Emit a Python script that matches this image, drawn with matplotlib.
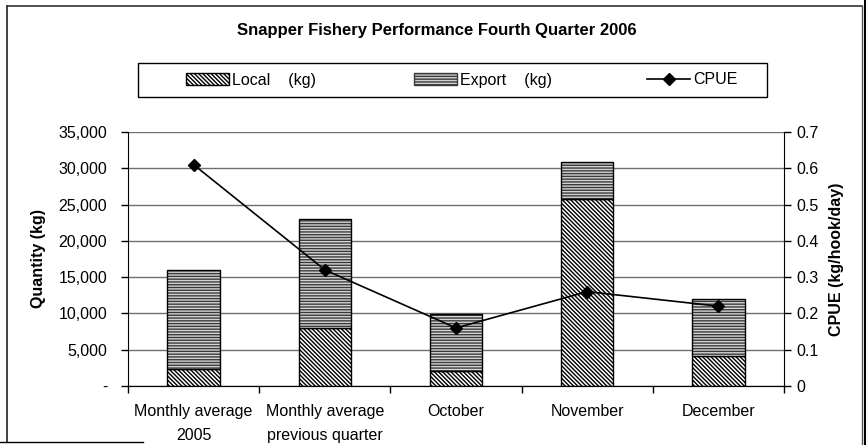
import numpy as np
import matplotlib
matplotlib.use('Agg')
import matplotlib.pyplot as plt
from matplotlib.patches import Rectangle, Patch
from matplotlib.lines import Line2D
from matplotlib.ticker import FuncFormatter, FixedLocator

plt.rcParams['font.family'] = ['Liberation Sans', 'DejaVu Sans']
plt.rcParams['hatch.linewidth'] = 1.0

categories = ['Monthly average\n2005', 'Monthly average\nprevious quarter',
              'October', 'November', 'December']
local_kg = [2300, 8000, 2100, 25800, 4200]
export_kg = [13700, 15000, 7800, 5100, 7800]
cpue = [0.61, 0.32, 0.16, 0.26, 0.22]

W, H = 866, 445
fig = plt.figure(figsize=(W / 100, H / 100), dpi=100)
ax = fig.add_axes([128 / W, 1 - 386 / H, 656 / W, 254 / H])
ax2 = ax.twinx()

x = np.arange(len(categories))
bw = 0.4
diag = '\\' * 8
horiz = '-' * 6

# local (diagonal hatch)
ax.bar(x, local_kg, bw, color='white', edgecolor='black', hatch=diag,
       linewidth=1.0, zorder=3)
# export (horizontal stripes): hatch layer, then outline
ax.bar(x, export_kg, bw, bottom=local_kg, color='#d4d4d4', edgecolor='#3a3a3a',
       hatch=horiz, linewidth=0, zorder=3)
ax.bar(x, export_kg, bw, bottom=local_kg, color='none', edgecolor='black',
       linewidth=1.0, zorder=4)

ax.set_xlim(-0.5, len(categories) - 0.5)
ax.set_ylim(0, 35000)
ax.set_yticks(np.arange(0, 35001, 5000))
ax.yaxis.set_major_formatter(FuncFormatter(lambda v, p: '-' if v == 0 else f'{v:,.0f}'))
ax.yaxis.grid(True, color='#707070', linewidth=1.0, zorder=0)
ax.set_axisbelow(True)

ax.xaxis.set_major_locator(FixedLocator(np.arange(-0.5, len(categories), 1.0)))
ax.xaxis.set_minor_locator(FixedLocator(x))
ax.set_xticklabels([''] * (len(categories) + 1))
ax.set_xticklabels(categories, minor=True, fontsize=11.5, linespacing=1.75)
ax.tick_params(axis='x', which='major', direction='out', length=5, width=1)
ax.tick_params(axis='x', which='minor', length=0, pad=13)
ax.tick_params(axis='y', direction='out', length=5, width=1, pad=10, labelsize=11.5)

ax2.plot(x, cpue, color='black', linewidth=1.2, marker='D', markersize=6, zorder=5)
ax2.set_ylim(0, 0.7)
ax2.set_yticks(np.arange(0, 0.71, 0.1))
ax2.yaxis.set_major_formatter(FuncFormatter(lambda v, p: f'{v:.1f}'.rstrip('0').rstrip('.') if v != 0 else '0'))
ax2.tick_params(axis='y', direction='out', length=5, width=1, pad=4, labelsize=11.5)

for a in (ax, ax2):
    a.spines['top'].set_visible(False)
ax2.spines['left'].set_visible(False)
ax.spines['right'].set_visible(False)

ax.set_ylabel('Quantity (kg)', fontsize=11.5, fontweight='bold', labelpad=9)
ax2.set_ylabel('CPUE (kg/hook/day)', fontsize=11.5, fontweight='bold', labelpad=7)

fig.text(437 / W, 1 - 30 / H, 'Snapper Fishery Performance Fourth Quarter 2006',
         ha='center', va='center', fontsize=12, fontweight='bold')

# legend box
fig.add_artist(Rectangle((138 / W, 1 - 97 / H), 629 / W, 34 / H, transform=fig.transFigure,
                         facecolor='white', edgecolor='black', linewidth=1.0))
leg_items = [
    (Patch(facecolor='white', edgecolor='black', hatch=diag), 'Local    (kg)', 186),
    (Patch(facecolor='#d4d4d4', edgecolor='#3a3a3a', hatch=horiz), 'Export    (kg)', 414),
    (Line2D([], [], color='black', linewidth=1.2, marker='D', markersize=6), 'CPUE', 647),
]
for h, lab, px in leg_items:
    fig.legend(handles=[h], labels=[lab], loc='center left',
               bbox_to_anchor=(px / W, 1 - 80 / H), frameon=False, borderpad=0,
               borderaxespad=0, handlelength=2.7, handletextpad=0.2, fontsize=11.5)

# outer frame lines
fig.add_artist(Line2D([7.5 / W, 7.5 / W], [1 - 442 / H, 1 - 6 / H], transform=fig.transFigure,
                      color='#222222', linewidth=1.2))
fig.add_artist(Line2D([7.5 / W, 862 / W], [1 - 6 / H, 1 - 6 / H], transform=fig.transFigure,
                      color='#333333', linewidth=1.2))
fig.add_artist(Line2D([861.5 / W, 861.5 / W], [0, 1 - 6 / H], transform=fig.transFigure,
                      color='#555555', linewidth=1.0))
fig.add_artist(Line2D([865 / W, 865 / W], [0, 1], transform=fig.transFigure,
                      color='black', linewidth=2.2))
fig.add_artist(Line2D([0, 143 / W], [1 - 441.5 / H, 1 - 441.5 / H], transform=fig.transFigure,
                      color='black', linewidth=1.0))

fig.savefig('out.png', dpi=100)
